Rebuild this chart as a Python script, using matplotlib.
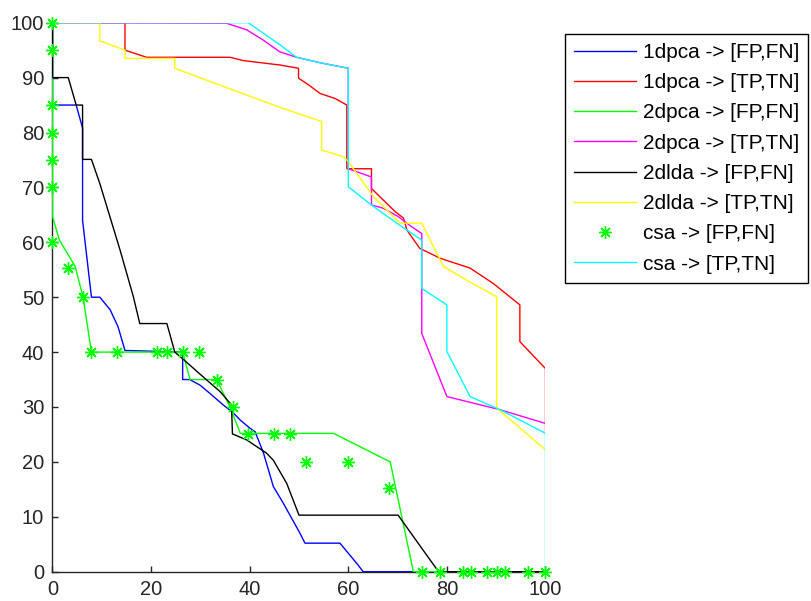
import matplotlib
matplotlib.use("Agg")
import matplotlib.pyplot as plt

plt.rcParams['font.family'] = ['Liberation Sans', 'DejaVu Sans']

# 1dpca -> [FP,FN]
dpca1_fp_x = [0, 0, 4.8, 6.1, 6.1, 7.9, 9.6, 11.7, 13.3, 14.7, 26.4, 26.4, 27.8, 29.9, 31.9, 34.6, 36.7,
              38.1, 40.1, 41.1, 42.8, 44.8, 46.8, 50.2, 51.2, 58.3, 62, 63, 100]
dpca1_fp_y = [100, 85, 85, 80.8, 64, 50, 50, 47.7, 44.6, 40.3, 40, 35, 35, 34, 32.5, 30.4, 28.9,
              27.6, 26.1, 25.5, 21.6, 15.5, 12.5, 7, 5.2, 5.2, 1.2, 0, 0]
# 1dpca -> [TP,TN]
dpca1_tp_x = [0, 14.7, 14.7, 19.1, 36, 38.7, 46.1, 49.9, 49.9, 51.9, 54.3, 57.3, 59.7, 59.7, 64.7, 64.7,
              66.4, 69.5, 71.2, 71.9, 74.5, 78.6, 84.7, 89.4, 94.8, 94.8, 100, 100]
dpca1_tp_y = [100, 100, 95, 93.7, 93.7, 93.1, 92.3, 91.7, 89.9, 88.7, 87.1, 86.2, 85, 73.4, 73.4, 69.8,
              68.3, 65.6, 64.4, 62.2, 58.9, 57.1, 55.3, 52.5, 48.6, 41.9, 37, 27]
# 2dpca -> [FP,FN]
dpca2_fp_x = [0, 0, 1.4, 4.6, 6.2, 7.9, 26.4, 27.9, 33.3, 36, 38.1, 57, 68.5, 73.2, 100]
dpca2_fp_y = [100, 64.7, 60.4, 55.6, 50, 40, 40, 35, 35, 30, 25.2, 25.2, 20, 0, 0]
# 2dpca -> [TP,TN]
dpca2_tp_x = [0, 35.3, 39.4, 42.8, 46.1, 49.5, 54.3, 60, 60, 64.7, 64.7, 67.1, 70.1, 72.9, 74.9, 74.9,
              80, 90.8, 100, 100]
dpca2_tp_y = [100, 99.9, 98.7, 96.8, 94.7, 93.7, 92.7, 91.7, 73.4, 71.9, 66.8, 66.2, 64.7, 62.8, 61.6, 43.4,
              31.9, 29.5, 27, 25.5]
# 2dlda -> [FP,FN]
dlda_fp_x = [0, 0, 3.2, 4.8, 6.1, 6.1, 7.9, 9.6, 13.7, 16.4, 17.7, 23.2, 24.5, 24.8, 26.5, 31.3, 34, 36.3,
             36.5, 39.4, 43.4, 44.8, 47.5, 50, 70.1, 78.3, 100]
dlda_fp_y = [100, 90, 90, 85, 85, 75.1, 75.1, 70.7, 58.6, 50.1, 45.2, 45.2, 41, 40, 38.7, 34.9, 32.8, 30.4,
             25.1, 24, 21.6, 20.3, 16.1, 10.3, 10.3, 0, 0]
# 2dlda -> [TP,TN]
dlda_tp_x = [0, 9.6, 9.6, 14.7, 14.7, 24.8, 24.8, 36.7, 46.1, 54.6, 54.6, 59, 60, 65.1, 70.5, 74.9, 79.3,
             84, 90.1, 90.1, 100]
dlda_tp_y = [100, 100, 96.7, 95, 93.5, 93.5, 91.7, 87.7, 84.6, 82, 76.8, 75.6, 74.7, 68.3, 63.5, 63.5, 55.6,
             53.1, 50.1, 29.8, 22.2]
# csa -> [FP,FN]  (markers only)
csa_fp_x = [0, 0, 0, 0, 0, 0, 0, 3.1, 6.2, 7.9, 13, 21.1, 23.2, 26.4, 29.7, 33.3, 36.6, 39.7, 44.9, 48.2,
            51.4, 59.9, 68.3, 74.9, 78.5, 83.2, 84.9, 88.2, 90.1, 91.8, 96.5, 100]
csa_fp_y = [100, 95, 85, 80, 75, 70, 60, 55.3, 50, 40, 40, 40, 40, 40, 40, 35, 30, 25, 25, 25,
            20, 20, 15.2, 0, 0, 0, 0, 0, 0, 0, 0, 0]
# csa -> [TP,TN]
csa_tp_x = [0, 39.7, 46.1, 49.5, 54.3, 60, 60, 64.7, 69.8, 74.9, 74.9, 80, 80, 84.7, 90.8, 100, 100]
csa_tp_y = [100, 100, 96, 93.7, 92.7, 91.7, 70.1, 66.8, 63.5, 60.4, 51.6, 48.6, 40.1, 31.9, 29.5, 25.2, 0]

ticks = [0, 20, 40, 60, 80, 100]
yticks = [0, 10, 20, 30, 40, 50, 60, 70, 80, 90, 100]

fig = plt.figure(figsize=(8.12, 6.01), dpi=100)
ax = fig.add_axes([52.5/812, 1-571.7/601, (545.5-52.5)/812, (571.7-22.7)/601])

lw = 1.0
ax.plot(dpca1_fp_x, dpca1_fp_y, color='#0000ff', lw=lw, label='1dpca -> [FP,FN]')
ax.plot(dpca1_tp_x, dpca1_tp_y, color='#ff0000', lw=lw, label='1dpca -> [TP,TN]')
ax.plot(dpca2_fp_x, dpca2_fp_y, color='#00ff00', lw=lw, label='2dpca -> [FP,FN]')
ax.plot(dpca2_tp_x, dpca2_tp_y, color='#ff00ff', lw=lw, label='2dpca -> [TP,TN]')
ax.plot(dlda_fp_x, dlda_fp_y, color='black', lw=lw, label='2dlda -> [FP,FN]')
ax.plot(dlda_tp_x, dlda_tp_y, color='#ffff00', lw=lw, label='2dlda -> [TP,TN]')
ax.plot(csa_fp_x, csa_fp_y, ls='none', marker=(8, 2, 0), ms=9, mew=1.0, color='#00ff00',
        clip_on=False, zorder=5, label='csa -> [FP,FN]')
ax.plot(csa_tp_x, csa_tp_y, color='#00ffff', lw=lw, zorder=6, label='csa -> [TP,TN]')

ax.set_xlim(0, 100)
ax.set_ylim(0, 100)
ax.set_xticks(ticks)
ax.set_yticks(yticks)
ax.spines['top'].set_visible(False)
ax.spines['right'].set_visible(False)
for s in ['left', 'bottom']:
    ax.spines[s].set_linewidth(1.0)
    ax.spines[s].set_color('#262626')
    ax.spines[s].set_zorder(0)
ax.tick_params(direction='in', length=4, width=1.0, colors='#262626', labelsize=14.5, pad=6)

leg = ax.legend(loc='upper left', bbox_to_anchor=(565/812, 1-34/601), bbox_transform=fig.transFigure,
                fontsize=15, frameon=True, fancybox=False, framealpha=1, edgecolor='black',
                borderaxespad=0, borderpad=0.43, labelspacing=0.54, handlelength=3.0,
                handletextpad=0.3, numpoints=1)
leg.get_frame().set_linewidth(1.0)

fig.savefig('out.png', dpi=100)
